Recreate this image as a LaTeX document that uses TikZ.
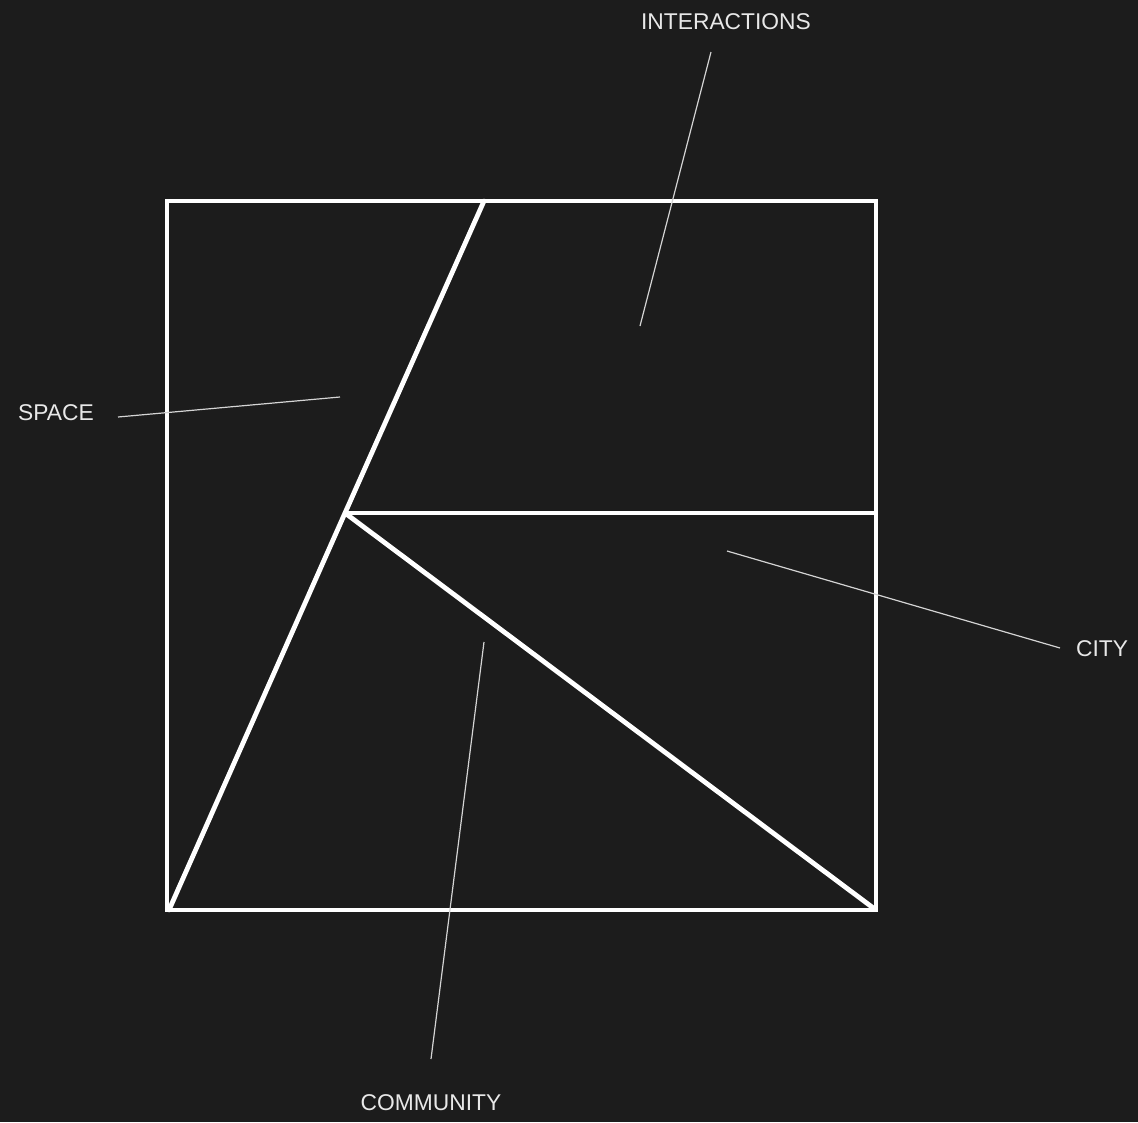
\documentclass[tikz,border=0pt]{standalone}
\usepackage{fontspec}
\setsansfont{Liberation Sans}
\usepackage{xcolor}
\usepackage{tikz}
\usetikzlibrary{positioning, calc}

\definecolor{bgdark}{HTML}{1C1C1C}
\definecolor{inkwhite}{HTML}{FFFFFF}
\definecolor{labelgray}{HTML}{E8E8E8}

\begin{document}
\begin{tikzpicture}[
    x=1pt, y=-1pt,
    frame/.style={draw=inkwhite, line width=4.8pt, line join=miter},
    leader/.style={draw=labelgray!90!bgdark, line width=1.2pt},
    tag/.style={font=\sffamily\fontsize{22.8}{27}\selectfont, text=labelgray,
                inner sep=0pt}
]
\fill[bgdark] (0,0) rectangle (1138,1122);
\useasboundingbox (0,0) rectangle (1138,1122);
% corners of the square and the inner joints
\coordinate (tl) at (167,201);
\coordinate (tr) at (876,201);
\coordinate (br) at (876,910);
\coordinate (bl) at (167,910);
\coordinate (top) at (484,201);
\coordinate (knee) at (345,513);
\coordinate (foot) at (169,910);
\coordinate (mid) at (876,513);
\draw[frame] (tl) rectangle (br);
\draw[frame, line cap=round] (top) -- (knee) -- (foot);
\draw[frame] (knee) -- (mid);
\draw[frame, shorten >=2pt] (knee) -- (br);
% labels and their leader lines
\node[tag] (space) at (56,413) {SPACE};
\node[tag] (inter) at (726,22) {INTERACTIONS};
\node[tag] (city) at (1102,649) {CITY};
\node[tag] (comm) at (431,1103) {COMMUNITY};
\coordinate (spacefrom) at (118,417);
\coordinate (interfrom) at (711,52);
\coordinate (cityfrom) at (1060,648);
\coordinate (commfrom) at (431,1059);
\coordinate (spaceend) at (340,397);
\coordinate (interend) at (640,326);
\coordinate (cityend) at (727,551);
\coordinate (commend) at (484,642);
\draw[leader] (spacefrom) -- (spaceend);
\draw[leader] (interfrom) -- (interend);
\draw[leader] (cityfrom) -- (cityend);
\draw[leader] (commfrom) -- (commend);
\end{tikzpicture}
\end{document}
